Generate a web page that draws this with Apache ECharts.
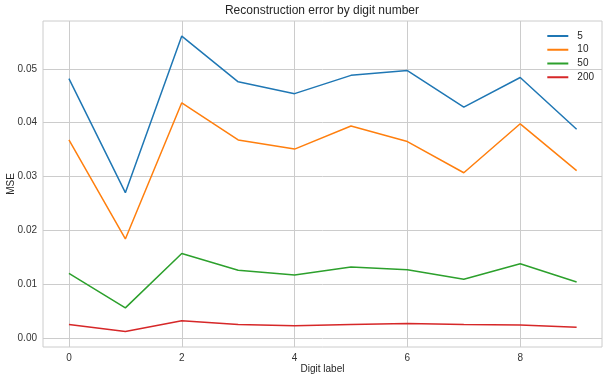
<!DOCTYPE html>
<html><head><meta charset="utf-8">
<script src="https://cdn.jsdelivr.net/npm/echarts@6/dist/echarts.min.js"></script>
<style>html,body{margin:0;padding:0;background:#fff}#c{width:608px;height:380px}</style>
</head><body><div id="c"></div>
<script>
const digits = [0,1,2,3,4,5,6,7,8,9];
const seriesNames = ['5','10','50','200'];
const mse5   = [0.0482,0.0270,0.0561,0.0476,0.0454,0.0488,0.0497,0.0429,0.0484,0.0388];
const mse10  = [0.0368,0.0184,0.0437,0.0368,0.0351,0.0394,0.0365,0.0307,0.0398,0.0311];
const mse50  = [0.0120,0.0056,0.0157,0.0126,0.0117,0.0132,0.0127,0.0109,0.0138,0.0104];
const mse200 = [0.0025,0.0012,0.0032,0.0025,0.0023,0.0025,0.0027,0.0025,0.0024,0.0020];
const xTicks = [0,2,4,6,8];
const yTicks = [0.00,0.01,0.02,0.03,0.04,0.05];
const colors = ['#1f77b4','#ff7f0e','#2ca02c','#d62728'];
const values = [mse5, mse10, mse50, mse200];
const font = 'Liberation Sans, Arial, sans-serif';

const chart = echarts.init(document.getElementById('c'), null, {renderer:'canvas'});
chart.setOption({
  animation:false,
  color: colors,
  textStyle:{fontFamily:font},
  graphic:[{type:'text', x:322, y:11, style:{text:'Reconstruction error by digit number', fill:'#262626', font:'12px '+font, align:'center', verticalAlign:'middle'}}],
  grid:{left:43, right:6, top:21, bottom:33, show:true, borderColor:'#cccccc', borderWidth:1, containLabel:false, outerBoundsMode:'none'},
  legend:{
    orient:'vertical', right:9, top:24, icon:'path://M0,0H21V2H0Z M25,0H25.01V2H25Z', itemWidth:25, itemHeight:2, itemGap:0,
    textStyle:{fontSize:10, color:'#262626', lineHeight:13.8, fontFamily:font},
    data: seriesNames
  },
  xAxis:{
    type:'value', min:-0.46, max:9.45,
    name:'Digit label', nameLocation:'middle', nameGap:17, nameMoveOverlap:false,
    nameTextStyle:{fontSize:10, color:'#262626', fontFamily:font},
    axisLine:{show:false},
    axisTick:{show:false, customValues:xTicks},
    axisLabel:{customValues:xTicks, fontSize:10, color:'#333', margin:6, fontFamily:font},
    splitLine:{show:true, lineStyle:{color:'#cccccc', width:1}}
  },
  yAxis:{
    type:'value', min:-0.00167, max:0.0589,
    name:'MSE', nameLocation:'middle', nameGap:27, nameRotate:90, nameMoveOverlap:false,
    nameTextStyle:{fontSize:10, color:'#262626', fontFamily:font},
    axisLine:{show:false},
    axisTick:{show:false, customValues:yTicks},
    axisLabel:{customValues:yTicks, fontSize:10, color:'#333', margin:6, fontFamily:font, formatter:v=>v.toFixed(2)},
    splitLine:{show:true, lineStyle:{color:'#cccccc', width:1}}
  },
  series: seriesNames.map((n,i)=>({
    name:n, type:'line', showSymbol:false, symbol:'none',
    lineStyle:{width:1.5, color:colors[i]},
    data: digits.map((d,j)=>[d, values[i][j]])
  }))
});
</script></body></html>
